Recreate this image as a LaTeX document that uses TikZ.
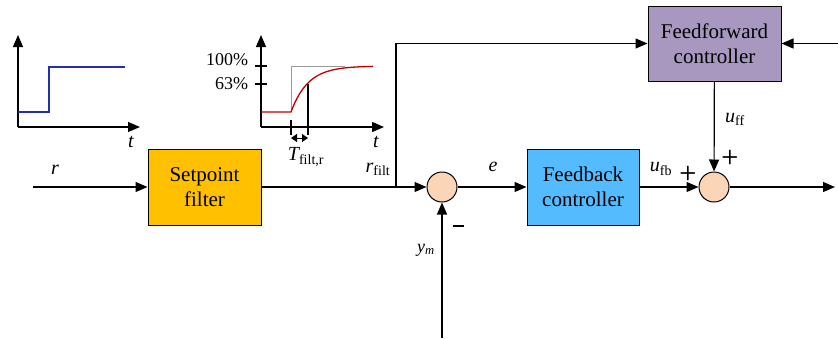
\documentclass[tikz,border=0pt]{standalone}
\usepackage{fontspec}
\setmainfont{Liberation Serif}
\usepackage{xcolor}
\usetikzlibrary{arrows.meta, positioning}
\definecolor{filterorange}{HTML}{FFC000}
\definecolor{fbblue}{HTML}{55BBFF}
\definecolor{ffpurple}{HTML}{A898C0}
\definecolor{sumpeach}{HTML}{FBD5B5}
\definecolor{stepblue}{HTML}{2030B0}
\definecolor{filtred}{HTML}{C00000}
\newcommand{\sig}[2]{{\itshape #1}\textsubscript{\upshape #2}}

\begin{document}
\begin{tikzpicture}[
    x=1pt, y=-1pt,
    line width=1.2pt,
    every node/.style={align=center, font=\fontsize{18}{20}\selectfont},
    lbl/.style={font=\fontsize{20}{22}\selectfont},
    arrow/.style={-{Triangle[length=12pt,width=10pt]}},
    block/.style={draw, line width=1pt, minimum width=113pt, minimum height=76pt,
      font=\fontsize{21}{25}\selectfont},
    sumnode/.style={circle, draw, line width=1pt, fill=sumpeach, minimum size=30pt, inner sep=0pt},
    sign/.style={font=\sffamily\bfseries\fontsize{20}{20}\selectfont, inner sep=0pt}
  ]
  \useasboundingbox (0,0) rectangle (838,338);

  % Blocks
  \node[block, fill=filterorange] (filter) at (204.5,187) {Setpoint\\filter};
  \node[block, fill=fbblue, minimum width=112pt] (fb) at (583,187) {Feedback\\controller};
  \node[block, fill=ffpurple, minimum width=133pt, minimum height=75pt] (ff) at (714.5,43.5) {Feedforward\\controller};

  % Summing points
  \node[sumnode] (sum1) at (442,187) {};
  \node[sumnode] (sum2) at (714,187) {};

  % Free ends
  \coordinate (rin) at (33,187);
  \coordinate (branch) at (396,187);
  \coordinate (corner) at (396,43.5);
  \coordinate (dist) at (838,43.5);
  \coordinate (out) at (835,187);
  \coordinate (ymin) at (442,338);

  % Signals
  \draw[arrow] (rin) -- (filter);
  \draw[arrow] (filter) -- (sum1);
  \draw[arrow] (branch) -- (corner) -- (ff);
  \draw[arrow] (dist) -- (ff);
  \draw[arrow] (sum1) -- (fb);
  \draw[arrow] (fb) -- (sum2);
  \draw[arrow] (ff) -- (sum2);
  \draw[arrow] (sum2) -- (out);
  \draw[arrow] (ymin) -- (sum1);

  % Labels
  \node[lbl] (lr) at (55,170) {\itshape r};
  \node[lbl] (lrf) at (378,169) {\sig{r}{filt}};
  \node[lbl] (le) at (493,167) {\itshape e};
  \node[lbl] (lufb) at (661,169) {\sig{u}{fb}};
  \node[lbl] (luff) at (735,119) {\sig{u}{ff}};
  \node (lym) at (426,250) {{\itshape y}\textsubscript{\itshape m}};
  \node[sign] (p1) at (688,173) {+};
  \node[sign] (p2) at (730,157) {+};
  \node[sign] (m1) at (458,226) {\rule{11pt}{2pt}};

  % Step input plot
  \draw[arrow] (18,127) -- (18,35);
  \draw[arrow] (18,127) -- (140,127);
  \draw[stepblue, line width=1.3pt] (18,112) -- (49,112) -- (49,67) -- (125,67);
  \node[lbl] (lt1) at (131,142) {\itshape t};

  % Filtered response plot
  \draw[arrow] (261,127) -- (261,35);
  \draw[arrow] (261,127) -- (384,127);
  \draw (255,66) -- (267,66);
  \draw (255,84) -- (267,84);
  \node[anchor=east] (l100) at (252,60) {100\%};
  \node[anchor=east] (l63) at (252,84) {63\%};
  \draw[gray!80, line width=1pt] (291,112) -- (291,66) -- (345,66);
  \draw[filtred, line width=1.3pt] (261,112) -- (291,112)
    -- plot[domain=291:373, samples=50] (\x, {112-46*(1-exp(-(\x-291)/17))});
  \draw (308,84) -- (308,135);
  \draw (291,120) -- (291,135);
  \draw[{Triangle[length=6pt,width=8pt]}-{Triangle[length=6pt,width=8pt]}, line width=1pt] (291,138) -- (308,138);
  \node[lbl] (lT) at (306,157) {{\itshape T}\textsubscript{filt,r}};
  \node[lbl] (lt2) at (376,142) {\itshape t};
\end{tikzpicture}
\end{document}
